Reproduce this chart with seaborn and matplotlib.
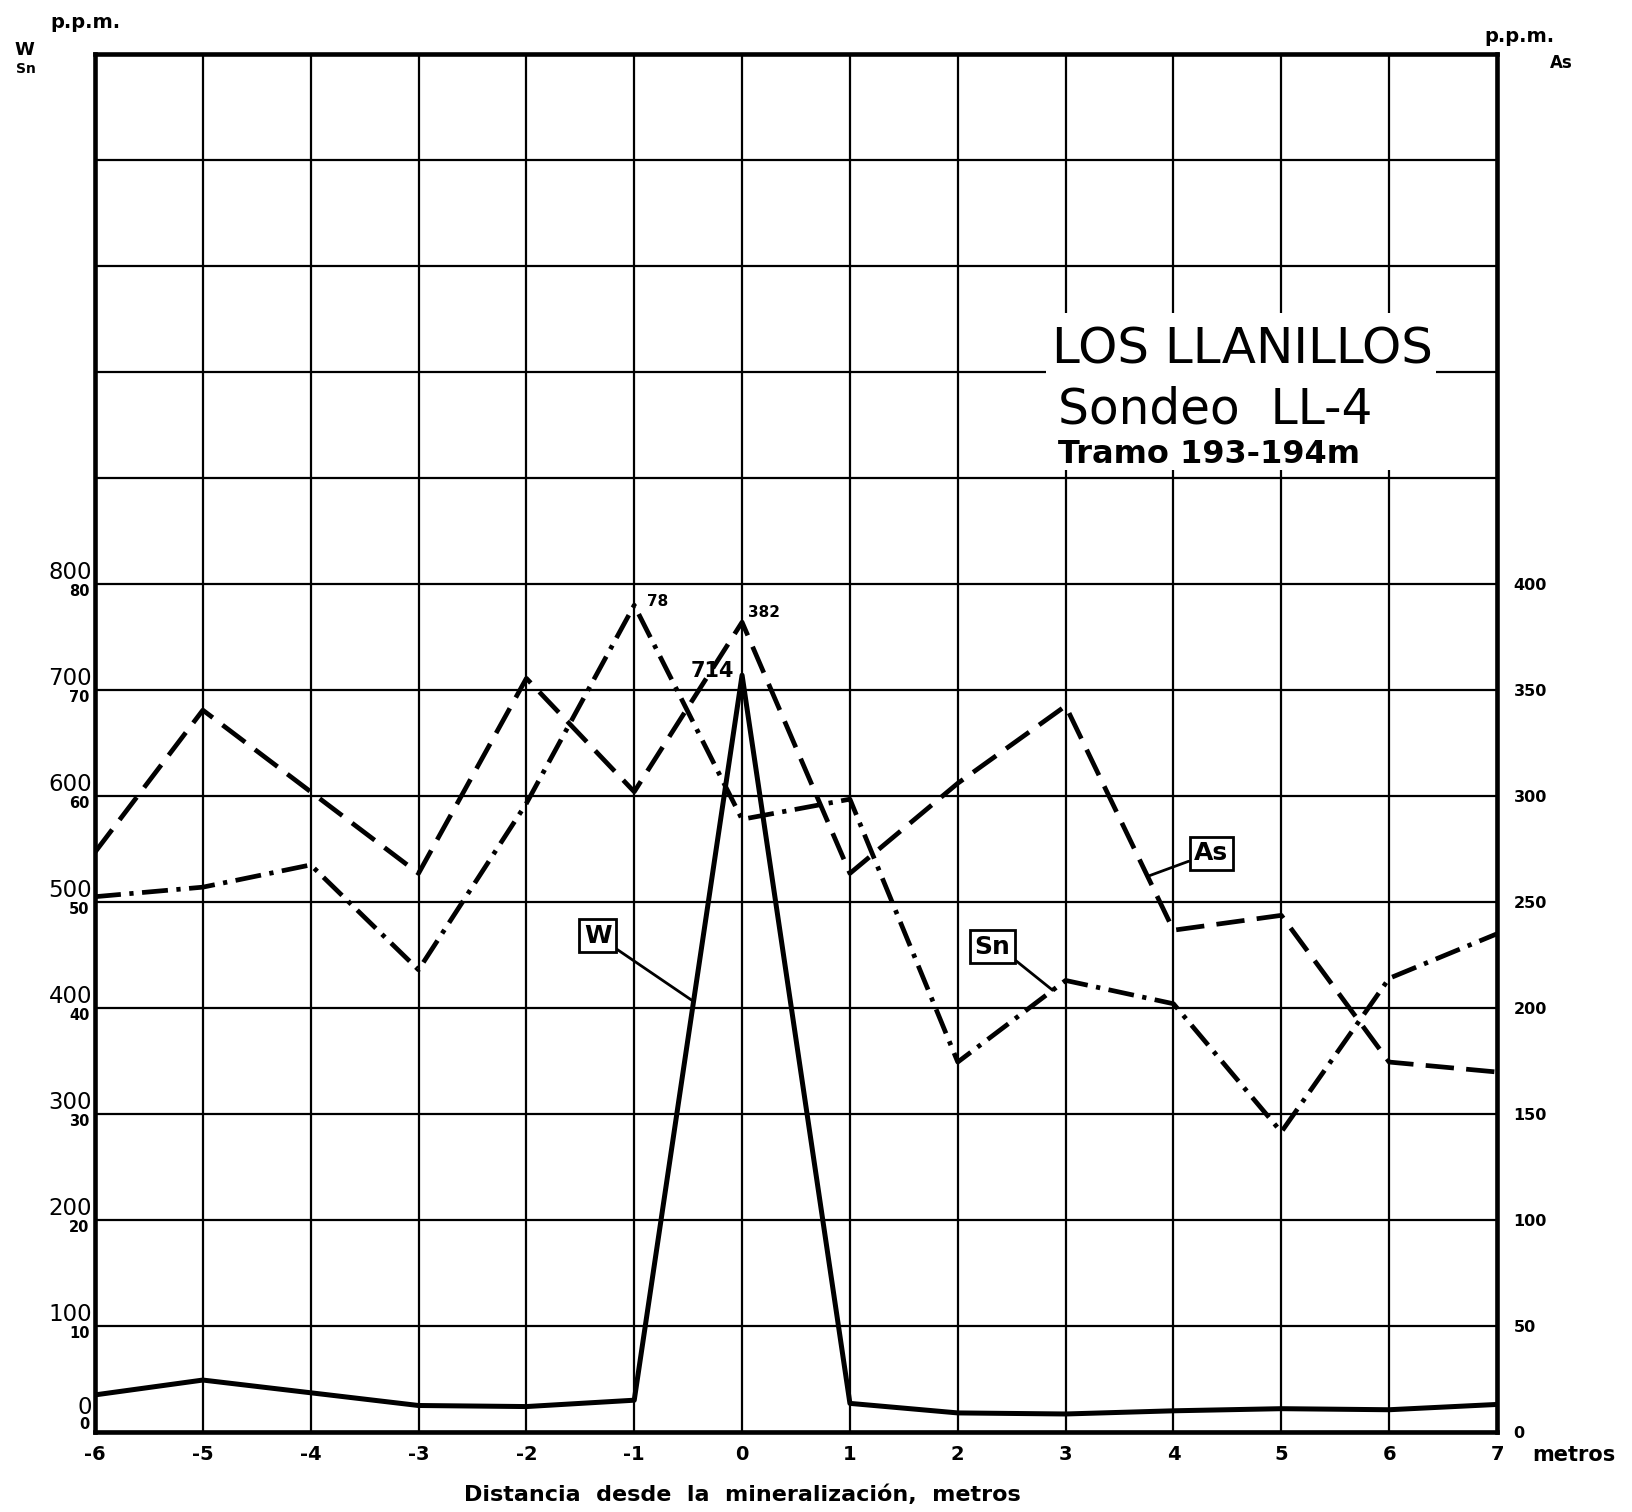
import numpy as np
import pandas as pd
import matplotlib
matplotlib.use("Agg")
import matplotlib.pyplot as plt
import seaborn as sns
from matplotlib.patches import Rectangle
from matplotlib.transforms import ScaledTranslation

# ---------------- data ----------------
distance = [-6, -5, -4, -3, -2, -1, 0, 1, 2, 3, 4, 5, 6, 7]
w_ppm = [35, 49, 37, 25, 24, 30, 714, 27, 18, 17, 20, 22, 21, 26]
sn_ppm = [50.5, 51.4, 53.5, 43.6, 59.3, 78, 57.8, 59.7, 34.9, 42.6, 40.4, 28.3, 42.8, 47.0]
as_ppm = [273.5, 340.5, 302, 263.5, 355.5, 302, 382, 263.5, 306, 342.5, 236.7, 243.7, 174.5, 169.8]

x_ticks = list(range(-6, 8))
x_tick_labels = [str(v) for v in x_ticks]
w_grid = list(range(0, 1301, 100))
w_tick_labels = ["0", "100", "200", "300", "400", "500", "600", "700", "800"]
sn_ticks = [0, 10, 20, 30, 40, 50, 60, 70, 80]
sn_tick_labels = ["0", "10", "20", "30", "40", "50", "60", "70", "80"]
as_ticks = [0, 50, 100, 150, 200, 250, 300, 350, 400]
as_tick_labels = ["0", "50", "100", "150", "200", "250", "300", "350", "400"]

peak_labels = {"Sn": "78", "As": "382", "W": "714"}

df = pd.DataFrame({"x": distance, "W": w_ppm, "Sn": sn_ppm, "As": as_ppm})

# ---------------- figure ----------------
sns.set_style("white")
plt.rcParams["font.family"] = ["DejaVu Sans"]
plt.rcParams["text.color"] = "black"
plt.rcParams["xtick.color"] = "black"
plt.rcParams["ytick.color"] = "black"
plt.rcParams["axes.labelcolor"] = "black"

W, H = 1632, 1512
fig = plt.figure(figsize=(W / 100, H / 100), dpi=100)
L, R, T, B = 95, 1497, 54, 1432
ax = fig.add_axes([L / W, 1 - B / H, (R - L) / W, (B - T) / H])
ax_as = ax.twinx()
ax_sn = ax.twinx()

ax.set_xlim(-6, 7)
ax.set_ylim(0, 1300)
ax_sn.set_ylim(0, 130)
ax_as.set_ylim(0, 650)

# grid
ax.set_axisbelow(True)
ax.set_xticks(x_ticks)
ax.set_yticks(w_grid)
ax.grid(True, color="black", linewidth=1.6)
for a in (ax, ax_as, ax_sn):
    a.tick_params(length=0, colors="black")
for s in ax.spines.values():
    s.set_linewidth(3.3)
    s.set_color("black")
for a in (ax_as, ax_sn):
    for s in a.spines.values():
        s.set_visible(False)

# x tick labels
ax.set_xticklabels(x_tick_labels, fontsize=14, fontweight="bold")
ax.tick_params(axis="x", pad=9)

# left W labels (large, above the grid line)
ax.set_yticklabels(w_tick_labels + [""] * (len(w_grid) - len(w_tick_labels)),
                   fontsize=16.5, va="bottom")
ax.tick_params(axis="y", pad=2)

# left Sn labels (small, below the grid line)
ax_sn.yaxis.tick_left()
ax_sn.set_yticks(sn_ticks)
ax_sn.set_yticklabels(sn_tick_labels, fontsize=10.5, fontweight="bold", va="top")
ax_sn.tick_params(axis="y", pad=4)

# right As labels
ax_as.set_yticks(as_ticks)
ax_as.set_yticklabels(as_tick_labels, fontsize=11.5, fontweight="bold")
ax_as.tick_params(axis="y", pad=12)

# stack the two zeros above the axis
ax_sn.get_yticklabels()[0].set_va("bottom")
lbl0 = ax.get_yticklabels()[0]
lbl0.set_transform(lbl0.get_transform() + ScaledTranslation(0, 9 / 72, fig.dpi_scale_trans))

# ---------------- lines ----------------
sns.lineplot(data=df, x="x", y="W", ax=ax, color="black", linewidth=3.6,
             estimator=None, sort=False, zorder=5)
sns.lineplot(data=df, x="x", y="Sn", ax=ax_sn, color="black", linewidth=3.4,
             estimator=None, sort=False, zorder=5)
ax_sn.lines[-1].set_dashes([5.5, 1.8, 0.9, 1.8])
sns.lineplot(data=df, x="x", y="As", ax=ax_as, color="black", linewidth=3.4,
             estimator=None, sort=False, zorder=5)
ax_as.lines[-1].set_dashes([6.0, 2.6])
for a in (ax, ax_sn, ax_as):
    a.set_xlabel("")
    a.set_ylabel("")

# peak value labels
i_sn = int(np.argmax(sn_ppm))
ax_sn.annotate(peak_labels["Sn"], (distance[i_sn], sn_ppm[i_sn]), xytext=(9, 3),
               textcoords="offset points", fontsize=11, fontweight="bold",
               ha="left", va="center")
i_as = int(np.argmax(as_ppm))
ax_as.annotate(peak_labels["As"], (distance[i_as], as_ppm[i_as]), xytext=(4, 7),
               textcoords="offset points", fontsize=11, fontweight="bold",
               ha="left", va="center")
i_w = int(np.argmax(w_ppm))
ax.annotate(peak_labels["W"], (distance[i_w], w_ppm[i_w]), xytext=(-6, 3),
            textcoords="offset points", fontsize=15, fontweight="bold",
            ha="right", va="center")

# boxed series labels with leader lines
box = dict(boxstyle="square,pad=0.18", facecolor="white", edgecolor="black", linewidth=2)
arrow = dict(arrowstyle="-", color="black", linewidth=2, shrinkA=0, shrinkB=0)
xw = -0.45
ax.annotate("W", xy=(xw, np.interp(xw, distance, w_ppm)), xytext=(-1.34, 468),
            fontsize=18, fontweight="bold", ha="center", va="center", bbox=box,
            arrowprops=dict(arrow, relpos=(1.0, 0.1)), zorder=6)
xs = 2.88
ax_sn.annotate("Sn", xy=(xs, np.interp(xs, distance, sn_ppm)), xytext=(2.32, 45.8),
               fontsize=18, fontweight="bold", ha="center", va="center", bbox=box,
               arrowprops=dict(arrow, relpos=(1.0, 0.1)), zorder=6)
xa = 3.76
ax_as.annotate("As", xy=(xa, np.interp(xa, distance, as_ppm)), xytext=(4.35, 273),
               fontsize=18, fontweight="bold", ha="center", va="center", bbox=box,
               arrowprops=dict(arrow, relpos=(0.0, 0.25)), zorder=6)

# ---------------- title block ----------------
def fx(px):
    return (px - L) / (R - L)

def fy(py):
    return (B - py) / (B - T)

ax.add_patch(Rectangle((fx(1046), fy(470)), fx(1436) - fx(1046), fy(313) - fy(470),
                       transform=ax.transAxes, facecolor="white", edgecolor="none",
                       zorder=1))
ax.text(fx(1052), fy(363), "LOS LLANILLOS", transform=ax.transAxes, fontsize=36,
        ha="left", va="baseline", zorder=2)
ax.text(fx(1058), fy(424), "Sondeo  LL-4", transform=ax.transAxes, fontsize=35,
        ha="left", va="baseline", zorder=2)
ax.text(fx(1058), fy(463), "Tramo 193-194m", transform=ax.transAxes, fontsize=23,
        fontweight="bold", ha="left", va="baseline", zorder=2)

# ---------------- outer texts ----------------
fig.text(50 / W, 1 - 22 / H, "p.p.m.", fontsize=14, fontweight="bold", ha="left", va="center")
fig.text(14 / W, 1 - 50 / H, "W", fontsize=13, fontweight="bold", ha="left", va="center")
fig.text(16 / W, 1 - 69 / H, "Sn", fontsize=10, fontweight="bold", ha="left", va="center")
fig.text(1484 / W, 1 - 37 / H, "p.p.m.", fontsize=14, fontweight="bold", ha="left", va="center")
fig.text(1550 / W, 1 - 63 / H, "As", fontsize=12, fontweight="bold", ha="left", va="center")
fig.text(1532 / W, 1 - 1455 / H, "metros", fontsize=15, fontweight="bold", ha="left", va="center")
fig.text(742 / W, 1 - 1484 / H, "Distancia  desde  la  mineralización,  metros",
         fontsize=16, fontweight="bold", ha="center", va="top")

fig.savefig("out.png", dpi=100)
